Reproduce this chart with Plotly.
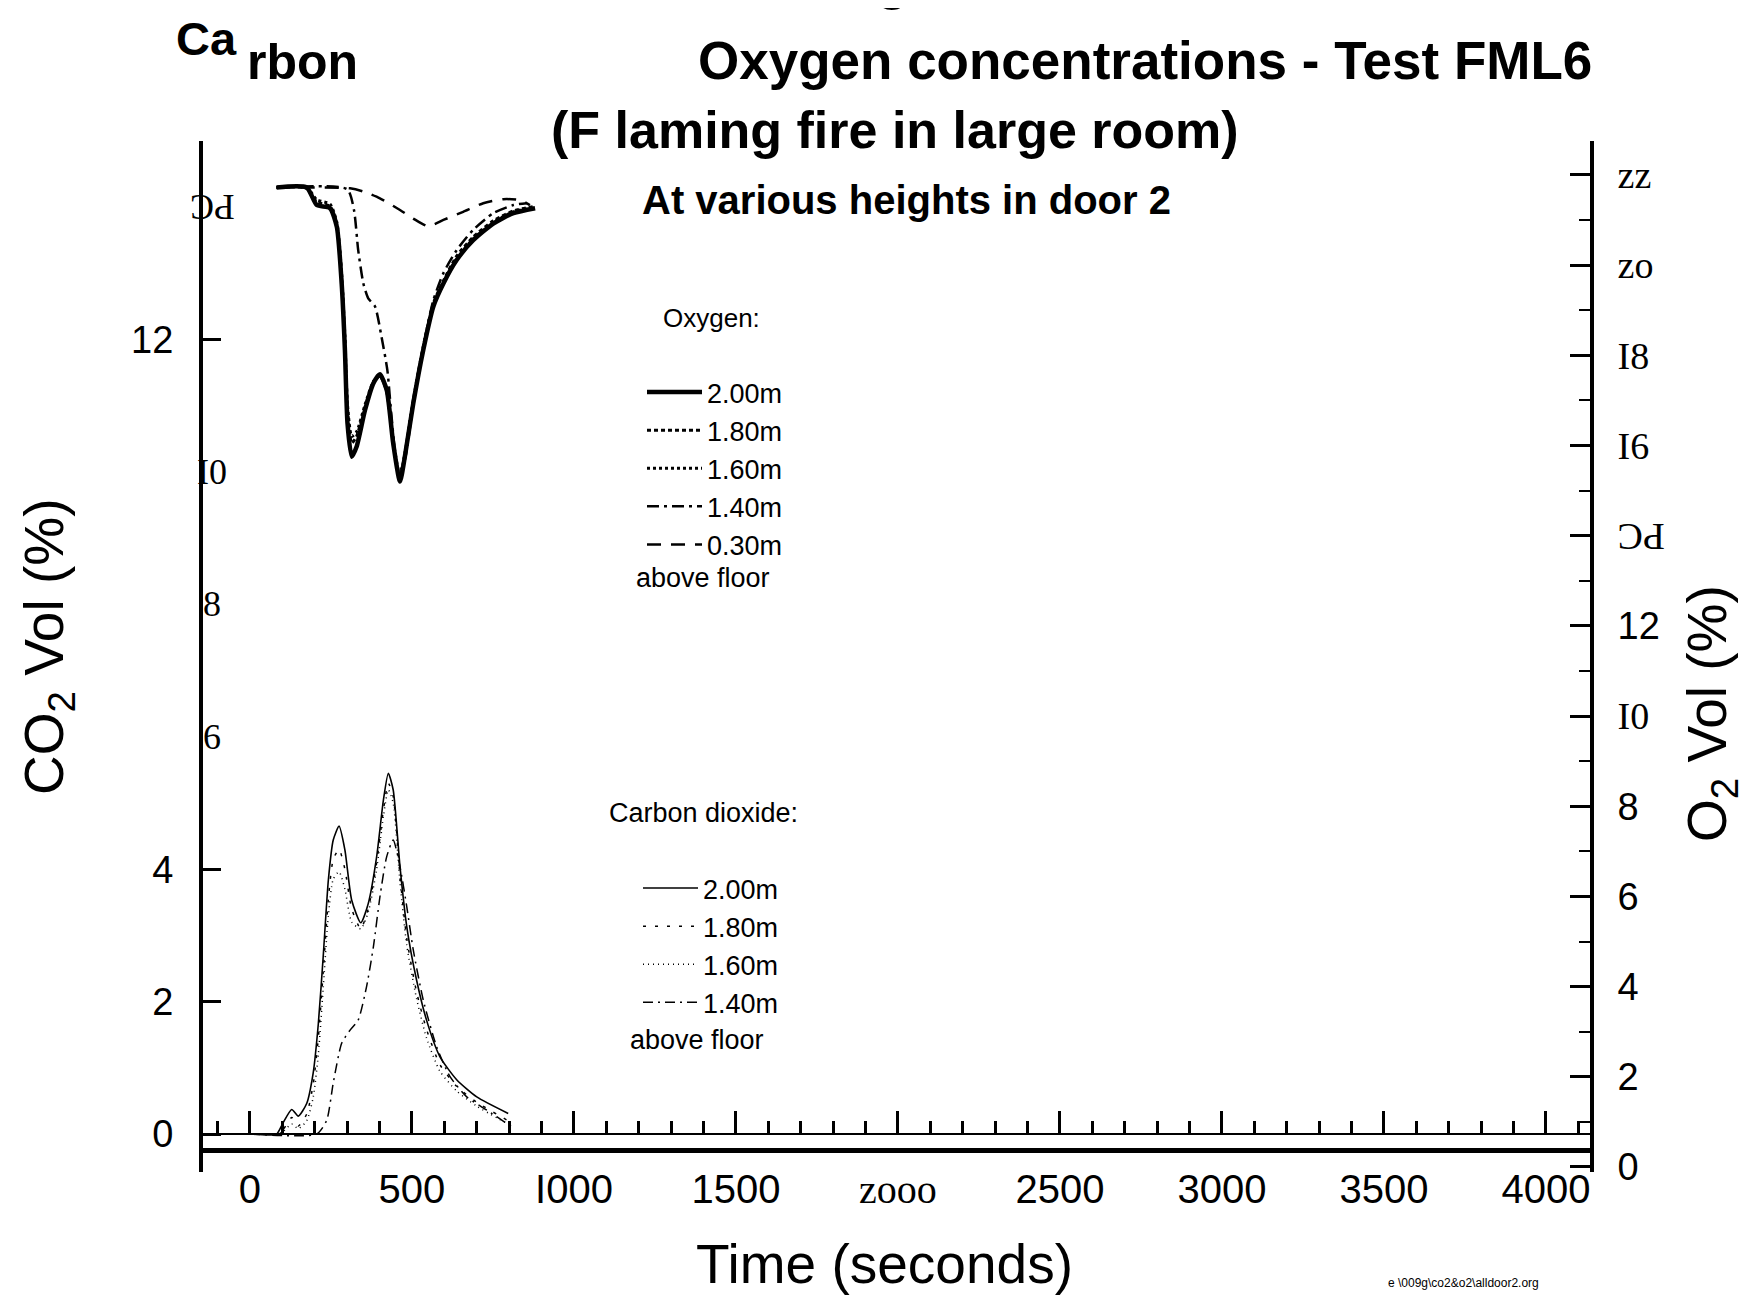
import plotly.graph_objects as go

# ---------------- data ----------------
# Oxygen (right axis, %), time in seconds
o2_time = [82, 175, 206, 247, 268, 283, 293, 301, 314, 329, 355, 381, 401, 422,
           442, 463, 478, 504, 535, 566, 597, 638, 689, 751, 813, 880]
o2_200 = [21.72, 21.72, 21.33, 21.26, 20.85, 19.59, 18.12, 16.49, 15.75, 15.97, 16.78,
          17.38, 17.58, 17.23, 16.05, 15.20, 15.75, 16.93, 18.12, 19.08, 19.59, 20.11,
          20.55, 20.92, 21.15, 21.26]
o2_180 = [21.72, 21.70, 21.40, 21.30, 20.90, 19.70, 18.30, 16.80, 16.05, 16.20, 16.85,
          17.40, 17.55, 17.20, 16.10, 15.30, 15.80, 17.00, 18.20, 19.15, 19.65, 20.20,
          20.62, 20.98, 21.20, 21.30]
o2_160 = [21.72, 21.72, 21.45, 21.35, 20.95, 19.80, 18.40, 16.90, 16.20, 16.30, 16.90,
          17.42, 17.55, 17.20, 16.10, 15.30, 15.80, 17.00, 18.15, 19.10, 19.60, 20.15,
          20.58, 20.95, 21.18, 21.28]
o2_140_time = [82, 300, 321, 334, 350, 365, 386, 406, 424, 437, 458, 478, 504, 535,
               566, 597, 638, 689, 751, 813, 854]
o2_140 = [21.72, 21.68, 21.22, 20.33, 19.59, 19.26, 19.08, 18.41, 17.67, 16.64, 15.38,
          15.68, 16.93, 18.19, 19.22, 19.82, 20.33, 20.78, 21.15, 21.33, 21.37]
o2_030_time = [82, 309, 350, 401, 463, 504, 550, 597, 658, 720, 782, 833, 864]
o2_030 = [21.72, 21.70, 21.63, 21.48, 21.22, 21.03, 20.86, 21.00, 21.18, 21.37,
          21.46, 21.44, 21.33]

# Carbon dioxide (left axis, %)
co2_time = [0, 82, 100, 129, 149, 175, 195, 211, 226, 242, 257, 275, 293, 314, 342,
            365, 391, 412, 427, 442, 463, 484, 514, 545, 586, 638, 700, 797]
co2_200 = [0, 0, 0.15, 0.37, 0.27, 0.46, 0.92, 1.67, 2.68, 3.84, 4.44, 4.65, 4.29,
           3.53, 3.19, 3.48, 4.19, 5.05, 5.45, 5.20, 4.04, 3.13, 2.33, 1.72, 1.17,
           0.82, 0.56, 0.31]
co2_180 = [0, 0, 0.05, 0.25, 0.12, 0.30, 0.75, 1.45, 2.45, 3.55, 4.15, 4.30, 4.00,
           3.40, 3.10, 3.40, 4.10, 4.90, 5.30, 5.10, 3.90, 2.95, 2.15, 1.58, 1.05,
           0.72, 0.48, 0.20]
co2_160 = [0, 0, 0.03, 0.15, 0.08, 0.20, 0.55, 1.20, 2.20, 3.30, 3.85, 3.96, 3.70,
           3.20, 3.10, 3.35, 4.00, 4.80, 5.20, 5.00, 3.80, 2.85, 2.05, 1.45, 0.95,
           0.65, 0.42, 0.15]
co2_140_time = [0, 206, 237, 257, 283, 309, 334, 360, 381, 401, 422, 442, 463, 484,
                504, 535, 576, 617, 669, 731, 808]
co2_140 = [0, 0, 0.21, 0.77, 1.37, 1.57, 1.72, 2.23, 2.83, 3.58, 4.19, 4.44, 4.04,
           3.43, 2.78, 2.02, 1.32, 0.87, 0.56, 0.36, 0.11]

heights = ["2.00m", "1.80m", "1.60m", "1.40m", "0.30m"]

# tick labels (as printed in the scanned figure)
x_tickvals = [0, 500, 1000, 1500, 2000, 2500, 3000, 3500, 4000]
x_ticktext = ["0", "500", "I000", "1500",
              "<span style='font-family:Liberation Serif, DejaVu Serif, serif'>zooo</span>",
              "2500", "3000", "3500", "4000"]
co2_tickvals = [0, 2, 4, 12]
co2_ticktext = ["0", "2", "4", "12"]
co2_extra_vals = [6, 8, 10, 14]
co2_extra_text = ["6", "8", "I0", "ƆԀ"]
o2_tickvals = [0, 2, 4, 6, 8, 10, 12, 14, 16, 18, 20, 22]
SERIF_SPAN = "<span style='font-family:Liberation Serif, DejaVu Serif, serif'>{}</span>"
o2_ticktext = ["0", "2", "4", "6", "8", SERIF_SPAN.format("I0"), "12",
               SERIF_SPAN.format("ƆԀ"), SERIF_SPAN.format("I6"), SERIF_SPAN.format("I8"),
               SERIF_SPAN.format("zo"), SERIF_SPAN.format("zz")]
o2_minor = [1, 3, 5, 7, 9, 11, 13, 15, 17, 19, 21]

# ---------------- styling ----------------
NARROW = "Liberation Sans Narrow, Arial Narrow, Liberation Sans, Arial, sans-serif"
SANS = "Liberation Sans, Arial, sans-serif"
SERIF = "Liberation Serif, DejaVu Serif, serif"

W, H = 1764, 1302
L, R, T, B = 203, 1590, 141, 1172
VSHIFT = 8   # compensation for the rendered plot-area offset (vertical)
HSHIFT = 8   # compensation for the rendered plot-area offset (horizontal)


def px(x):
    return (x - (L - HSHIFT)) / (R - L)


def py(y):
    return (B - y) / (B - T)


fig = go.Figure()

o2_styles = [
    (o2_time, o2_200, "solid", 4.5),
    (o2_time, o2_180, "4px,3px", 3),
    (o2_time, o2_160, "dot", 3),
    (o2_140_time, o2_140, "12px,5px,3px,5px", 2.5),
    (o2_030_time, o2_030, "14px,10px", 2.5),
]
for name, (t, v, dash, w) in zip(heights, o2_styles):
    fig.add_trace(go.Scatter(x=t, y=v, mode="lines", name=name, yaxis="y2",
                             line=dict(color="black", width=w, dash=dash, shape="spline",
                                       smoothing=0.6),
                             legend="legend"))

co2_styles = [
    (co2_time, co2_200, "solid", 1.6),
    (co2_time, co2_180, "3px,9px", 1.5),
    (co2_time, co2_160, "1px,4px", 1.5),
    (co2_140_time, co2_140, "10px,5px,2px,5px", 1.5),
]
for name, (t, v, dash, w) in zip(heights[:4], co2_styles):
    fig.add_trace(go.Scatter(x=t, y=v, mode="lines", name=name, yaxis="y",
                             line=dict(color="black", width=w, dash=dash, shape="spline",
                                       smoothing=0.6),
                             legend="legend2"))

# invisible helper trace so the inner tick axis (x2) is drawn
fig.add_trace(go.Scatter(x=[None], y=[None], xaxis="x2", yaxis="y", showlegend=False,
                         hoverinfo="skip"))

annotations = []


def text(x, y, s, size, family=SANS, bold=False, xanchor="center", angle=0):
    annotations.append(dict(x=px(x), y=py(y), xref="paper", yref="paper", text=s,
                            showarrow=False, xanchor=xanchor, yanchor="middle",
                            textangle=angle,
                            font=dict(family=family, size=size, color="black",
                                      weight="bold" if bold else "normal")))


# titles
text(884, -20, "g", 54, NARROW, True)
text(198, 39, "Ca", 47, NARROW, True)
text(294, 62, "rbon", 50, NARROW, True)
text(1137, 60, "Oxygen concentrations - Test FML6", 53, NARROW, True)
text(887, 130, "(F laming fire in large room)", 52, NARROW, True)
text(898, 200, "At various heights in door 2", 40, NARROW, True)

# legend headers / footers
text(703, 318, "Oxygen:", 26, SANS)
text(626, 578, "above floor", 27, SANS, xanchor="left")
text(695, 813, "Carbon dioxide:", 27, SANS)
text(620, 1040, "above floor", 27, SANS, xanchor="left")

# axis titles
text(40, 647, "CO<sub>2</sub> Vol (%)", 55, SANS, angle=-90)
text(1703, 714, "O<sub>2</sub> Vol (%)", 55, SANS, angle=-90)
text(876, 1264, "Time (seconds)", 55, NARROW)
text(1455, 1283, "e \\009g\\co2&o2\\alldoor2.org", 12, NARROW)

# misplaced left tick labels (drawn over the axis line in the scan)
for v, s in zip(co2_extra_vals, co2_extra_text):
    annotations.append(dict(x=px(204), y=v, xref="paper", yref="y", text=s,
                            showarrow=False, xanchor="center", yanchor="middle",
                            font=dict(family=SERIF, size=36, color="black")))

fig.update_layout(
    width=W, height=H, autosize=False,
    margin=dict(l=L - HSHIFT, r=W - R + HSHIFT, t=T - VSHIFT, b=H - B + VSHIFT, pad=0),
    paper_bgcolor="white", plot_bgcolor="white",
    showlegend=True,
    xaxis=dict(range=[-145, 4136], anchor="free", position=py(1150),
               showline=True, linewidth=5, linecolor="black", ticks="",
               tickmode="array", tickvals=x_tickvals, ticktext=x_ticktext,
               tickfont=dict(family=NARROW, size=40, color="black"),
               ticklabelstandoff=2, showgrid=False, zeroline=False),
    xaxis2=dict(range=[-145, 4136], overlaying="x", anchor="free", position=py(1134),
                showline=True, linewidth=1.5, linecolor="black",
                tickmode="linear", tick0=0, dtick=500, ticks="inside", ticklen=22,
                tickwidth=3, tickcolor="black", showticklabels=False,
                minor=dict(tick0=0, dtick=100, ticks="inside", ticklen=12, tickwidth=2.5,
                           tickcolor="black"),
                showgrid=False, zeroline=False),
    yaxis=dict(range=[-0.574, 15.0], side="left", showline=True, linewidth=4,
               linecolor="black", ticks="inside", ticklen=18, tickwidth=2.5,
               tickcolor="black", tickmode="array", tickvals=co2_tickvals,
               ticktext=co2_ticktext, tickfont=dict(family=SANS, size=38, color="black"),
               ticklabelstandoff=18, showgrid=False, zeroline=False),
    yaxis2=dict(range=[-0.111, 22.75], overlaying="y", side="right", anchor="x",
                showline=True, linewidth=4, linecolor="black", ticks="inside",
                ticklen=20, tickwidth=2.5, tickcolor="black", tickmode="array",
                tickvals=o2_tickvals, ticktext=o2_ticktext,
                tickfont=dict(family=SANS, size=38, color="black"),
                ticklabelstandoff=16,
                minor=dict(tickvals=o2_minor, ticks="inside", ticklen=11, tickwidth=2,
                           tickcolor="black"),
                showgrid=False, zeroline=False),
    legend=dict(x=px(634), y=py(368), xanchor="left", yanchor="top",
                font=dict(family=SANS, size=27, color="black"), itemwidth=55,
                bgcolor="rgba(0,0,0,0)", tracegroupgap=0),
    legend2=dict(x=px(630), y=py(864), xanchor="left", yanchor="top",
                 font=dict(family=SANS, size=27, color="black"), itemwidth=55,
                 bgcolor="rgba(0,0,0,0)", tracegroupgap=0),
    annotations=annotations,
)

fig.write_html("out.html")
